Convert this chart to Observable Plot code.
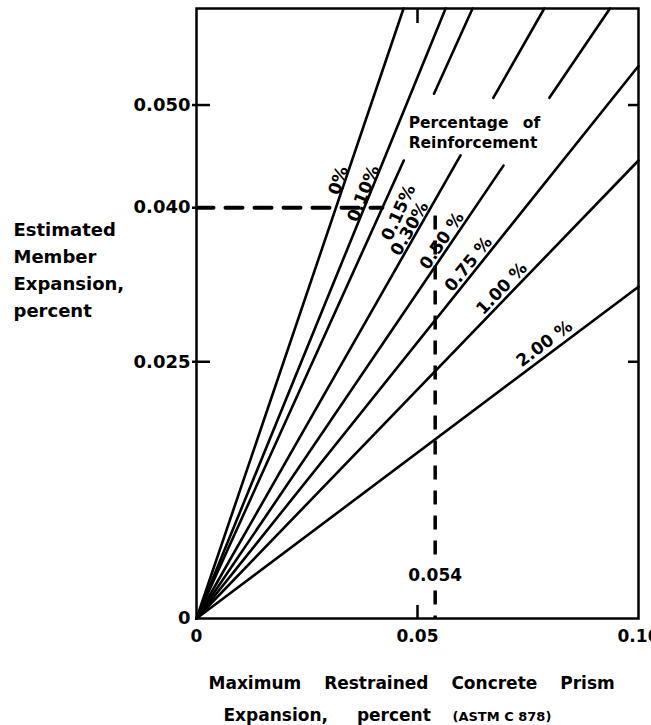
<!DOCTYPE html>
<html><head><meta charset="utf-8">
<script src="https://cdn.jsdelivr.net/npm/d3@7"></script>
<script src="https://cdn.jsdelivr.net/npm/@observablehq/plot@0.6"></script>
<style>body{margin:0;background:#fff;color:#000}</style>
</head><body><div id="chart"></div>
<script>
// ---- data ----
const reinforcement = ["0%", "0.10%", "0.15%", "0.30%", "0.50 %", "0.75 %", "1.00 %", "2.00 %"];
const slopes = [1.268, 1.054, 0.951, 0.755, 0.635, 0.538, 0.446, 0.323]; // member / prism expansion
const gapLow  = [null, null, 0.0446, 0.0451, 0.0441, null, null, null];
const gapHigh = [null, null, 0.0511, 0.0507, 0.0507, null, null, null];
const labelAlongY = [0.04245, 0.04116, 0.04020, 0.03759, 0.0363, 0.03396, 0.03149, 0.0259];
const labelOffsetPx = [6.3, 6, -16.7, 7.9, 8.8, 9.1, 9.5, 11];
const xTicks = [0, 0.05, 0.10];
const xTickLabels = ["0", "0.05", "0.10"];
const yTicks = [0, 0.025, 0.040, 0.050];
const yTickLabels = ["0", "0.025", "0.040", "0.050"];
const yTicksRight = [0.025, 0.050];
const xTicksInner = [0.05];
const exampleX = 0.054, exampleY = 0.040, exampleTopY = 0.0392, exampleLabelY = 0.0042;
const exampleLabel = "0.054";
const legendTitle = "Percentage of\nReinforcement";
const legendX = 0.048, legendY = 0.04577;
const yTitle = "Estimated\nMember\nExpansion,\npercent";
const xTitle1 = "Maximum Restrained Concrete Prism";
const xTitle2 = "Expansion, percent";
const xTitle3 = "(ASTM C 878)";

// ---- layout ----
const W = 651, H = 725, mL = 196, mR = 13, mT = 8, mB = 107;
const plotW = W - mL - mR, plotH = H - mT - mB;
const xMax = 0.1, yMax = 0.0594;
const kx = plotW / xMax, ky = plotH / yMax;

const rows = [];
reinforcement.forEach((r, i) => {
  const m = slopes[i];
  const yEnd = Math.min(yMax, m * xMax);
  const segs = gapLow[i] == null ? [[0, yEnd]] : [[0, gapLow[i]], [gapHigh[i], yEnd]];
  segs.forEach(([a, b], j) => {
    rows.push({id: i + "-" + j, x: a / m, y: a}, {id: i + "-" + j, x: b / m, y: b});
  });
});

const labels = reinforcement.map((r, i) => {
  const m = slopes[i];
  const th = Math.atan(m * ky / kx);
  const off = labelOffsetPx[i];
  const y0 = labelAlongY[i];
  return {
    text: r,
    x: y0 / m - off * Math.sin(th) / kx,
    y: y0 + off * Math.cos(th) / ky,
    rotate: -th * 180 / Math.PI
  };
});

const chart = Plot.plot({
  width: W, height: H,
  marginLeft: mL, marginRight: mR, marginTop: mT, marginBottom: mB,
  style: {fontFamily: "DejaVu Sans", fontWeight: "bold", color: "#000", background: "#fff"},
  x: {domain: [0, xMax], label: null},
  y: {domain: [0, yMax], label: null},
  marks: [
    Plot.line(rows, {x: "x", y: "y", z: "id", stroke: "#000", strokeWidth: 2.6}),
    Plot.line([{x: 0, y: exampleY}, {x: exampleY / slopes[2], y: exampleY}],
      {x: "x", y: "y", stroke: "#000", strokeWidth: 4, strokeDasharray: "17,12"}),
    Plot.ruleX([exampleX], {x: d => d, y1: exampleTopY, y2: 0, stroke: "#000", strokeWidth: 3.5, strokeDasharray: "14,11"}),
    Plot.text([exampleLabel], {x: exampleX, y: exampleLabelY, text: d => d, fontSize: 17,
      fill: "#000", stroke: "#fff", strokeWidth: 18, paintOrder: "stroke", strokeLinejoin: "round"}),
    Plot.text(labels, {x: "x", y: "y", text: "text", rotate: "rotate", fontSize: 17,
      textAnchor: "middle", lineAnchor: "middle", fill: "#000"}),
    Plot.text([legendTitle], {x: legendX, y: legendY, text: d => d, fontSize: 15.5,
      textAnchor: "start", lineAnchor: "bottom", lineHeight: 1.29, fill: "#000"}),
    Plot.frame({stroke: "#000", strokeWidth: 2.5}),
    Plot.tickY(yTicks.filter(v => v > 0), {y: d => d, insetLeft: -4, insetRight: plotW - 14, stroke: "#000", strokeWidth: 2.5}),
    Plot.tickY(yTicksRight, {y: d => d, insetLeft: plotW - 10, stroke: "#000", strokeWidth: 2.5}),
    Plot.tickX(xTicksInner, {x: d => d, insetBottom: plotH - 15, stroke: "#000", strokeWidth: 2.5}),
    Plot.tickX(xTicksInner, {x: d => d, insetTop: plotH - 13, stroke: "#000", strokeWidth: 2.5}),
    Plot.axisY(yTicks, {tickSize: 0, tickPadding: 6, fontSize: 18,
      tickFormat: d => yTickLabels[yTicks.indexOf(d)]}),
    Plot.axisX(xTicks, {tickSize: 0, tickPadding: 11, fontSize: 17,
      tickFormat: d => xTickLabels[xTicks.indexOf(d)]}),
    Plot.text([yTitle], {text: d => d, frameAnchor: "left", textAnchor: "start", lineAnchor: "middle",
      dx: -183, dy: -46, fontSize: 18, lineHeight: 1.5, fill: "#000"}),
    Plot.text([xTitle1], {text: d => d, frameAnchor: "bottom-left", textAnchor: "start", lineAnchor: "bottom",
      dx: 12, dy: 70, fontSize: 17, fill: "#000"}),
    Plot.text([xTitle2], {text: d => d, frameAnchor: "bottom-left", textAnchor: "start", lineAnchor: "bottom",
      dx: 27, dy: 102, fontSize: 17, fill: "#000"}),
    Plot.text([xTitle3], {text: d => d, frameAnchor: "bottom-left", textAnchor: "start", lineAnchor: "bottom",
      dx: 256, dy: 102, fontSize: 13, fill: "#000"})
  ]
});

const spacing = new Map([[xTitle1, "17px"], [xTitle2, "23px"]]);
chart.querySelectorAll("text").forEach(t => {
  if (spacing.has(t.textContent)) t.style.wordSpacing = spacing.get(t.textContent);
  const first = t.querySelector("tspan");
  if (first && first.textContent === "Percentage of") first.style.wordSpacing = "9px";
});
document.getElementById("chart").appendChild(chart);
</script>
</body></html>
